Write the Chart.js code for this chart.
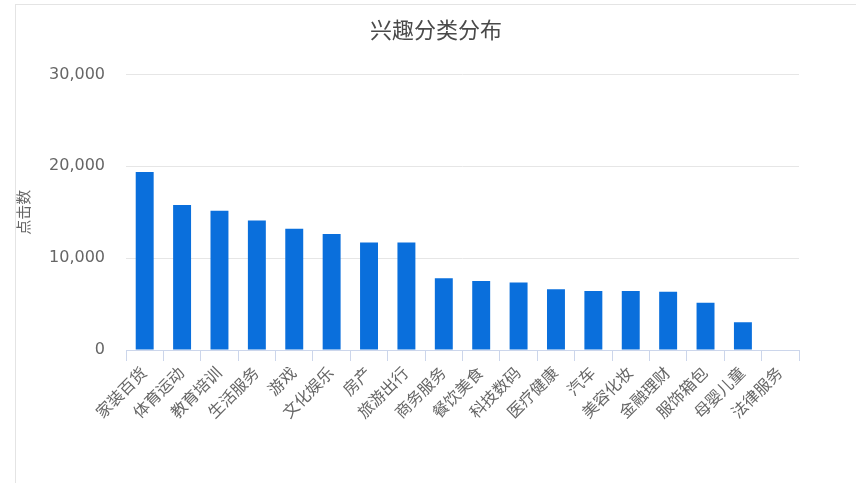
<!DOCTYPE html>
<html>
<head>
<meta charset="utf-8">
<script src="https://cdn.jsdelivr.net/npm/chart.js@4"></script>
<style>
    html, body { margin: 0; padding: 0; background: #fff; }
    #wrap { position: relative; width: 856px; height: 483px; }
    #frame { position: absolute; left: 15px; top: 4px; right: 0; bottom: 0; border-left: 1px solid #e4e4e4; border-top: 1px solid #e4e4e4; }
    canvas { position: absolute; left: 0; top: 0; }
</style>
</head>
<body>
<div id="wrap">
    <div id="frame"></div>
    <canvas id="interest-chart" width="856" height="483"></canvas>
</div>
<script>
const categories = ['家装百货', '体育运动', '教育培训', '生活服务', '游戏', '文化娱乐', '房产', '旅游出行', '商务服务',
    '餐饮美食', '科技数码', '医疗健康', '汽车', '美容化妆', '金融理财', '服饰箱包', '母婴儿童', '法律服务'];
const clicks = [19380, 15780, 15160, 14100, 13200, 12620, 11700, 11700, 7820,
    7520, 7340, 6620, 6430, 6430, 6330, 5130, 3020, 0];
const yTicks = [0, 10000, 20000, 30000];

const fontFamily = '"Open Sans", "Noto Sans CJK SC", sans-serif';

const ctx = document.getElementById('interest-chart').getContext('2d');

new Chart(ctx, {
    type: 'bar',
    data: {
        labels: categories,
        datasets: [{
            label: '点击数',
            data: clicks,
            backgroundColor: '#0a6fdc',
            borderWidth: 0,
            barPercentage: 0.48,
            categoryPercentage: 1
        }]
    },
    options: {
        responsive: false,
        animation: false,
        layout: {
            padding: { left: 16, right: 0, top: 0, bottom: 0 }
        },
        scales: {
            x: {
                grid: {
                    display: true,
                    drawOnChartArea: false,
                    tickLength: 11,
                    color: '#ccd6eb'
                },
                border: { color: '#ccd6eb' },
                ticks: {
                    minRotation: 45,
                    maxRotation: 45,
                    autoSkip: false,
                    padding: 3,
                    color: '#666',
                    font: { family: fontFamily, size: 16 }
                },
                afterFit: function(scale) {
                    scale.height = 133;
                }
            },
            y: {
                min: 0,
                max: 30000,
                afterBuildTicks: function(scale) {
                    scale.ticks = yTicks.map(v => ({ value: v }));
                },
                ticks: {
                    padding: 21,
                    color: '#666',
                    font: { family: '"DejaVu Sans", sans-serif', size: 16 },
                    callback: function(value) {
                        return value.toLocaleString('en-US');
                    }
                },
                grid: {
                    color: '#e6e6e6',
                    drawTicks: false
                },
                border: { display: false },
                title: {
                    display: true,
                    text: '点击数',
                    color: '#666',
                    padding: 0,
                    font: { family: fontFamily, size: 15 }
                },
                afterFit: function(scale) {
                    scale.width = 110;
                }
            },
            // empty axis on the right just to keep the plot off the right edge
            yRight: {
                position: 'right',
                display: true,
                grid: { display: false },
                border: { display: false },
                ticks: { display: false },
                afterFit: function(scale) {
                    scale.width = 57;
                }
            }
        },
        plugins: {
            legend: { display: false },
            tooltip: { enabled: false },
            title: {
                display: true,
                text: '兴趣分类分布',
                color: '#4a4a4a',
                padding: { top: 19, bottom: 29 },
                font: { family: fontFamily, size: 22, weight: 'normal' }
            }
        }
    }
});
</script>
</body>
</html>
